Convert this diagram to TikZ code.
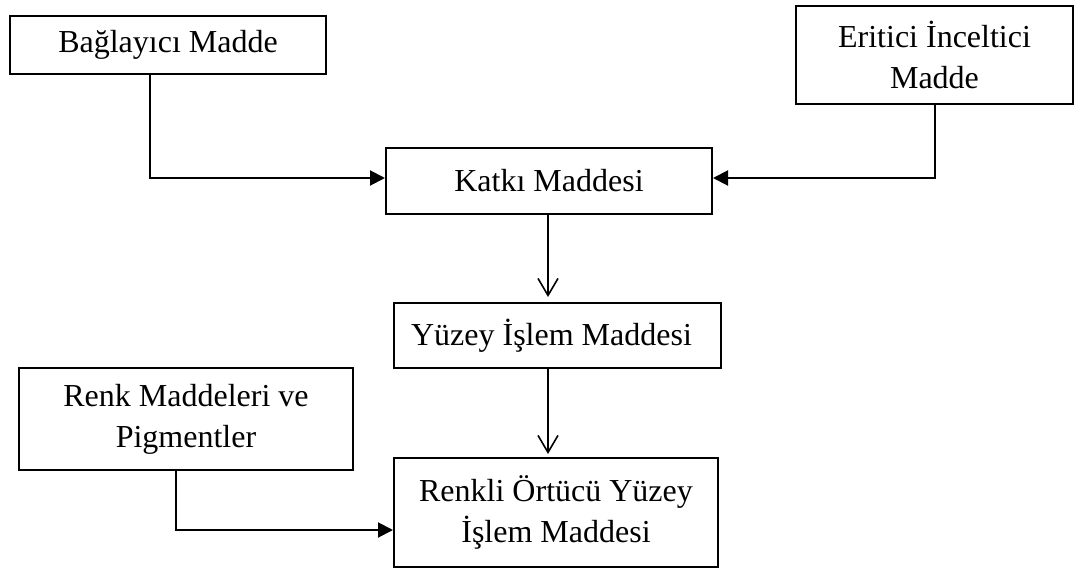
\documentclass[tikz,border=0pt]{standalone}
\usepackage{fontspec}
\setmainfont{Liberation Serif}
\usetikzlibrary{arrows.meta}
\begin{document}
\begin{tikzpicture}[x=1pt,y=-1pt,
  box/.style={draw=black,line width=2pt,inner sep=0pt,align=center,
    font=\fontsize{32}{41}\selectfont},
  link/.style={draw=black,line width=2pt},
  filled/.style={link,-{Triangle[length=15pt,width=15pt]}},
  open/.style={link,-{Straight Barb[length=17pt,width=20pt,line width=1.6pt]}}]
\useasboundingbox (0,0) rectangle (1074,570);
\node[box,minimum width=316pt,minimum height=58pt] (bag) at (168,45) {Bağlayıcı Madde};
\node[box,minimum width=277pt,minimum height=98pt] (eri) at (934.5,55) {Eritici İnceltici\\Madde};
\node[box,minimum width=326pt,minimum height=66pt] (kat) at (549,181) {Katkı Maddesi};
\node[box,minimum width=327pt,minimum height=65pt] (yuz) at (557.5,335.5) {Yüzey İşlem Maddesi\hspace*{12pt}};
\node[box,minimum width=334pt,minimum height=102pt] (renk) at (186,419) {Renk Maddeleri ve\\Pigmentler};
\node[box,minimum width=324pt,minimum height=109pt] (renkli) at (556,512.5) {Renkli Örtücü Yüzey\\İşlem Maddesi};
\draw[filled] ([xshift=-18pt]bag.south) |- ([yshift=3pt]kat.west);
\draw[filled] (eri.south) |- ([yshift=3pt]kat.east);
\draw[open] ([xshift=-1pt]kat.south) -- ([xshift=-1pt,yshift=5pt]kat.south |- yuz.north);
\draw[open] ([xshift=-9.5pt]yuz.south) -- ([xshift=-9.5pt,yshift=3pt]yuz.south |- renkli.north);
\draw[filled] ([xshift=-10pt]renk.south) |- ([yshift=-17.5pt]renkli.west);
\end{tikzpicture}
\end{document}
